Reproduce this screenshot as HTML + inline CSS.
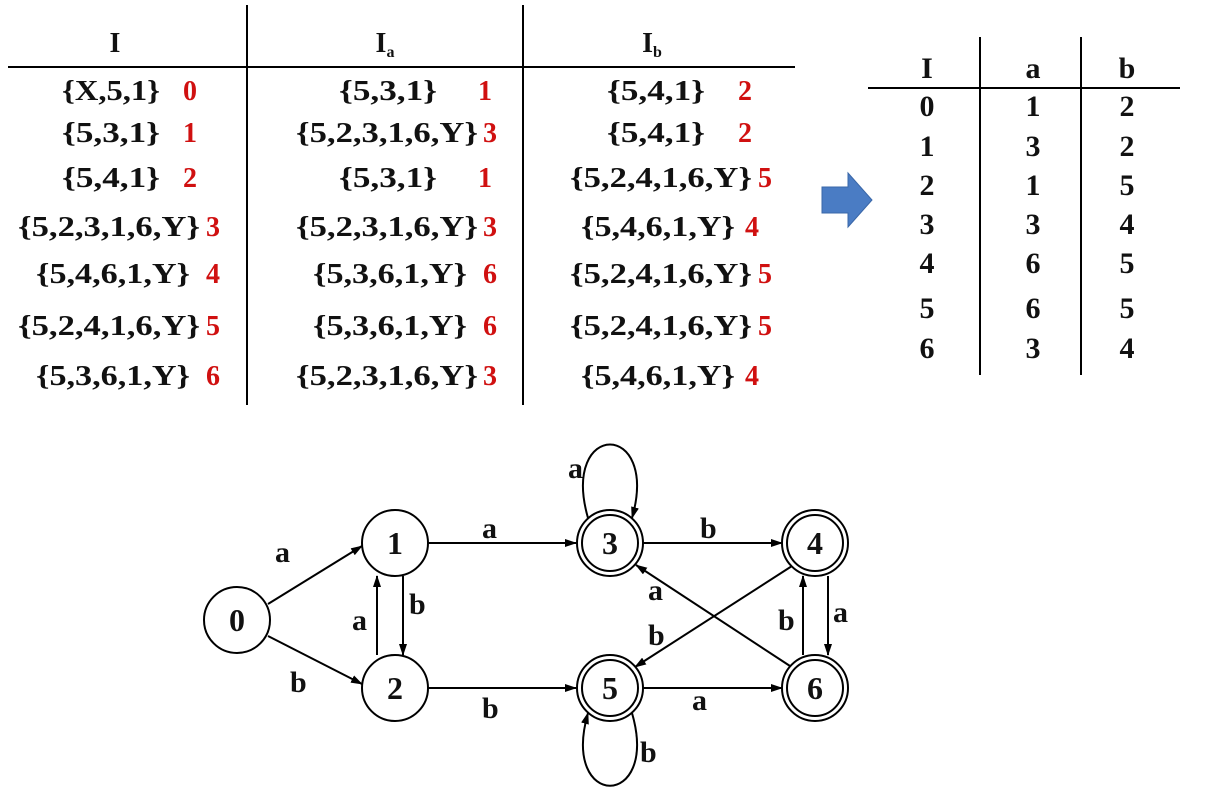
<!DOCTYPE html>
<html><head><meta charset="utf-8"><style>
body{margin:0;background:#fff;}
svg text{font-family:"Liberation Serif",serif;font-weight:bold;}
</style></head><body>
<svg width="1210" height="806" viewBox="0 0 1210 806" xmlns="http://www.w3.org/2000/svg">
<defs><marker id="ah" markerWidth="12" markerHeight="8" refX="11" refY="4" orient="auto" markerUnits="userSpaceOnUse"><path d="M0,0 L12,4 L0,8 z" fill="#000"/></marker></defs>
<g font-size="28" fill="#111">
<line x1="8" y1="67" x2="795" y2="67" stroke="#000" stroke-width="2"/>
<line x1="247" y1="5" x2="247" y2="405" stroke="#000" stroke-width="2"/>
<line x1="523" y1="5" x2="523" y2="405" stroke="#000" stroke-width="2"/>
<text x="115" y="52" text-anchor="middle">I</text>
<text x="385" y="52" text-anchor="middle">I<tspan font-size="16" dy="5">a</tspan></text>
<text x="652" y="52" text-anchor="middle">I<tspan font-size="16" dy="5">b</tspan></text>
<g id="rows"></g>
</g>
<g font-size="30" fill="#111" text-anchor="middle">
<line x1="868" y1="88" x2="1180" y2="88" stroke="#000" stroke-width="2"/>
<line x1="980" y1="37" x2="980" y2="375" stroke="#000" stroke-width="2"/>
<line x1="1081" y1="37" x2="1081" y2="375" stroke="#000" stroke-width="2"/>
<text x="927" y="78">I</text><text x="1033" y="78">a</text><text x="1127" y="78">b</text>
<g id="rows2"></g>
</g>
<path d="M822,187 L848,187 L848,173 L872,200 L848,227 L848,213 L822,213 z" fill="#4a7cc4" stroke="#3a67a8"/>
<g stroke="#000" stroke-width="2" fill="none" font-size="30">
<line x1="268" y1="604" x2="362" y2="546" marker-end="url(#ah)"/>
<line x1="268" y1="636" x2="362" y2="684" marker-end="url(#ah)"/>
<line x1="428" y1="543" x2="576" y2="543" marker-end="url(#ah)"/>
<line x1="428" y1="688" x2="576" y2="688" marker-end="url(#ah)"/>
<line x1="403" y1="576" x2="403" y2="655" marker-end="url(#ah)"/>
<line x1="377" y1="655" x2="377" y2="576" marker-end="url(#ah)"/>
<line x1="643" y1="543" x2="782" y2="543" marker-end="url(#ah)"/>
<line x1="643" y1="688" x2="782" y2="688" marker-end="url(#ah)"/>
<line x1="792" y1="566" x2="635" y2="667" marker-end="url(#ah)"/>
<line x1="790" y1="666" x2="636" y2="565" marker-end="url(#ah)"/>
<line x1="803" y1="655" x2="803" y2="576" marker-end="url(#ah)"/>
<line x1="828" y1="576" x2="828" y2="655" marker-end="url(#ah)"/>
<path d="M588,518 C560,420 660,420 632,518" marker-end="url(#ah)"/>
<path d="M632,713 C660,810 560,810 588,713" marker-end="url(#ah)"/>
<g id="nodes"></g>
<g fill="#111" stroke="none">
<text x="275" y="562">a</text><text x="290" y="692">b</text>
<text x="482" y="538">a</text><text x="482" y="718">b</text>
<text x="409" y="614">b</text><text x="352" y="630">a</text>
<text x="700" y="538">b</text><text x="692" y="710">a</text>
<text x="648" y="600">a</text><text x="648" y="645">b</text>
<text x="778" y="630">b</text><text x="833" y="622">a</text>
<text x="568" y="478">a</text><text x="640" y="762">b</text>
</g>
</g>
</svg>
<script>
const ns="http://www.w3.org/2000/svg";
const col1=["{X,5,1}","{5,3,1}","{5,4,1}","{5,2,3,1,6,Y}","{5,4,6,1,Y}","{5,2,4,1,6,Y}","{5,3,6,1,Y}"];
const colA=["{5,3,1}","{5,2,3,1,6,Y}","{5,3,1}","{5,2,3,1,6,Y}","{5,3,6,1,Y}","{5,3,6,1,Y}","{5,2,3,1,6,Y}"];
const colB=["{5,4,1}","{5,4,1}","{5,2,4,1,6,Y}","{5,4,6,1,Y}","{5,2,4,1,6,Y}","{5,2,4,1,6,Y}","{5,4,6,1,Y}"];
const numA=[1,3,1,3,6,6,3];
const numB=[2,2,5,4,5,5,4];
const rowY=[100,142,187,236,283,335,385];
function t(g,x,y,s,fill,name,anchor,len){const e=document.createElementNS(ns,'text');e.setAttribute('x',x);e.setAttribute('y',y);e.setAttribute('text-anchor',anchor||'middle');if(fill)e.setAttribute('fill',fill);
if(len){e.setAttribute('textLength',len);e.setAttribute('lengthAdjust','spacingAndGlyphs');}
e.textContent=s;


g.appendChild(e);}
function pick(len,a,b,c){return len<=8?a:(len<=11?b:c);}
const g=document.getElementById('rows');
for(let i=0;i<7;i++){const y=rowY[i];
let s=col1[i],L=s.length,w=14*L,end=pick(L,160,190,200);
t(g,end-w,y,s,null,'subset-I','start',w);
t(g,pick(L,190,213,213),y,String(i),'#d01010','state-I','middle');
s=colA[i];L=s.length;w=14*L;end=pick(L,437,467,478);
t(g,end-w,y,s,null,'subset-Ia','start',w);
t(g,pick(L,485,490,490),y,String(numA[i]),'#d01010','state-Ia','middle');
s=colB[i];L=s.length;w=14*L;end=pick(L,705,735,752);
t(g,end-w,y,s,null,'subset-Ib','start',w);
t(g,pick(L,745,752,765),y,String(numB[i]),'#d01010','state-Ib','middle');}
const g2=document.getElementById('rows2');
const r2=[116,156,195,234,273,318,358];
for(let i=0;i<7;i++){t(g2,927,r2[i],String(i),null,'state');t(g2,1033,r2[i],String(numA[i]),null,'on-a');t(g2,1127,r2[i],String(numB[i]),null,'on-b');}
const nodeX=[237,395,395,610,815,610,815],nodeY=[620,543,688,543,543,688,688],acc=[0,0,0,1,1,1,1];
const gn=document.getElementById('nodes');
for(let i=0;i<7;i++){const c=document.createElementNS(ns,'circle');c.setAttribute('cx',nodeX[i]);c.setAttribute('cy',nodeY[i]);c.setAttribute('r',33);c.setAttribute('fill','#fff');


gn.appendChild(c);
if(acc[i]){const c2=document.createElementNS(ns,'circle');c2.setAttribute('cx',nodeX[i]);c2.setAttribute('cy',nodeY[i]);c2.setAttribute('r',28);


gn.appendChild(c2);}
const e=document.createElementNS(ns,'text');e.setAttribute('x',nodeX[i]);e.setAttribute('y',nodeY[i]+11);e.setAttribute('text-anchor','middle');e.setAttribute('fill','#111');e.setAttribute('stroke','none');e.setAttribute('font-size','32');e.textContent=i;


gn.appendChild(e);}
</script>
</body></html>
